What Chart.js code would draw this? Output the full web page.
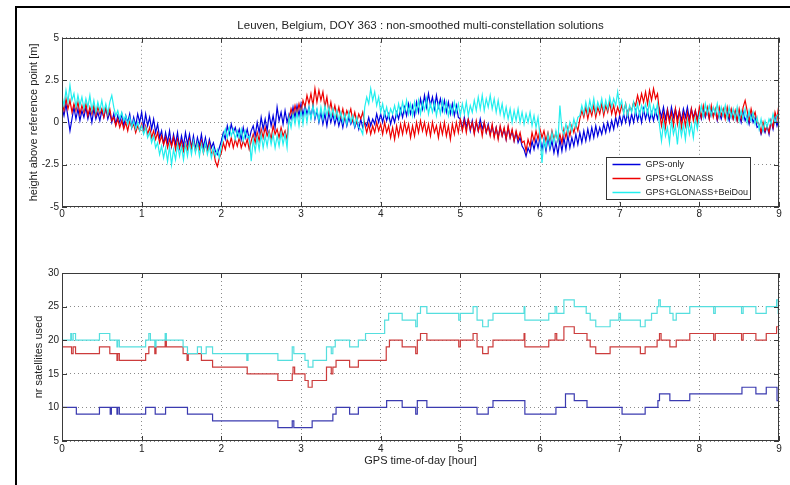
<!DOCTYPE html>
<html>
<head>
<meta charset="utf-8">
<title>Leuven, Belgium, DOY 363</title>
<script src="https://cdn.jsdelivr.net/npm/chart.js@4/dist/chart.umd.min.js"></script>
<style>
  html, body { margin: 0; padding: 0; background: #fff; }
  #fig { position: relative; width: 790px; height: 485px; overflow: hidden; background: #fff; }
  #frame { position: absolute; left: 15px; top: 6px; width: 800px; height: 500px; border: 2px solid #000; }
  #topCanvas { position: absolute; left: 0; top: 0; }
  #botCanvas { position: absolute; left: 0; top: 240px; }
</style>
</head>
<body>
<div id="fig">
  <div id="frame"></div>
  <canvas id="topCanvas" width="790" height="225"></canvas>
  <canvas id="botCanvas" width="790" height="245"></canvas>
</div>
<script>
// ── Data ─────────────────────────────────────────────────────────────────
// Height above reference point [m], every 0.025 h
// (two lines = one hour, last value is 9 h)
const heightStep = 0.025;

const gpsOnlyHeight = [
   0.9,  0.4,  1.1,  0.3, -0.5,  0.2,  0.9,  0.2,  0.8,  0.1,  0.7,  0.3,  0.9,  0.2,  0.7,  0.0,  0.8,  0.2,  0.6,  0.1,
   0.7,  0.3,  0.9,  0.2,  0.6,  0.0,  0.5, -0.1,  0.4,  0.0,  0.5, -0.2,  0.4,  0.0,  0.5, -0.3,  0.3, -0.2,  0.5,  0.0,
   0.6, -0.3,  0.5, -0.2,  0.3, -0.4,  0.2, -0.6, -0.1, -0.9, -0.5, -1.3, -0.6, -1.2, -0.5, -1.4, -0.7, -1.3, -0.6, -1.5,
  -0.8, -1.4, -0.6, -1.3, -0.7, -1.5, -0.8, -1.6, -0.9, -1.4, -0.7, -1.5, -0.9, -1.6, -1.0, -1.5, -1.2, -1.7, -1.9, -1.5,
  -1.1, -0.6, -1.0, -0.2, -0.7, -0.1, -0.6, -0.3, -0.8, -0.4, -1.0, -0.3, -0.9, -0.4, -1.0, -0.5, -0.2, -0.8,  0.0, -0.6,
   0.3, -0.4,  0.2, -0.5,  0.5, -0.2,  0.4, -0.3,  0.9,  0.1,  0.6, -0.1,  0.7,  0.0,  0.5,  0.2,  0.9,  0.3,  1.0,  0.4,
   1.1,  0.4,  1.0,  0.5,  0.9,  0.3,  1.0,  0.2,  0.7,  0.0,  0.6, -0.1,  0.5, -0.2,  0.6,  0.0,  0.5, -0.1,  0.4, -0.2,
   0.3, -0.3,  0.4, -0.2,  0.3, -0.1,  0.2, -0.3,  0.1, -0.4,  0.2, -0.3,  0.0, -0.2,  0.3, -0.2,  0.2, -0.1,  0.5,  0.0,
   0.5,  0.0,  0.6,  0.1,  0.5, -0.1,  0.4,  0.0,  0.6,  0.2,  0.8,  0.3,  0.9,  0.4,  1.1,  0.5,  1.0,  0.4,  1.2,  0.6,
   1.4,  0.8,  1.6,  0.9,  1.7,  1.0,  1.5,  0.8,  1.6,  0.9,  1.4,  0.7,  1.3,  0.6,  1.2,  0.5,  1.1,  0.4,  1.0,  0.3,
   0.2, -0.4,  0.3, -0.3,  0.2, -0.5,  0.1, -0.6,  0.0, -0.5,  0.2, -0.4,  0.0, -0.6, -0.1, -0.7, -0.2, -0.8, -0.3, -0.9,
  -0.3, -0.8, -0.4, -1.0, -0.3, -0.9, -0.5, -1.1, -0.6, -1.2, -0.9, -1.4, -1.6, -2.0, -1.5, -1.8, -1.1, -1.6, -1.0, -1.5,
  -0.9, -1.6, -1.0, -1.7, -0.9, -1.6, -1.1, -1.8, -1.2, -1.9, -1.0, -1.7, -0.9, -1.6, -0.8, -1.5, -0.9, -1.4, -0.7, -1.3,
  -0.6, -1.2, -0.5, -1.1, -0.4, -1.0, -0.3, -0.9, -0.2, -0.8, -0.3, -0.7, -0.1, -0.6,  0.0, -0.5,  0.1, -0.4,  0.3, -0.2,
   0.4, -0.1,  0.5,  0.0,  0.6, -0.1,  0.5,  0.0,  0.7,  0.1,  0.6,  0.0,  0.8,  0.2,  0.7,  0.1,  0.6,  0.1,  0.7,  0.2,
   0.8,  0.3,  0.9,  0.2,  0.8,  0.1,  0.9,  0.3,  0.8,  0.2,  0.7,  0.1,  0.8,  0.3,  0.9,  0.2,  0.8,  0.3,  0.7,  0.2,
   0.7,  0.2,  0.8,  0.3,  0.7,  0.2,  0.8,  0.4,  0.7,  0.1,  0.6,  0.2,  0.7,  0.3,  0.6,  0.1,  0.7,  0.2,  0.6,  0.1,
   0.5,  0.0,  0.6,  0.1,  0.4, -0.1,  0.5,  0.0,  0.3, -0.3, -0.2, -0.7, -0.3, -0.6, -0.2, -0.7,  0.1, -0.4,  0.3, -0.2,
   0.2
];

const gpsGlonassHeight = [
   1.2,  0.7,  1.4,  0.8,  1.3,  0.6,  1.1,  0.7,  1.2,  0.5,  1.0,  0.6,  1.1,  0.4,  0.9,  0.5,  1.0,  0.4,  0.9,  0.5,
   0.8,  0.3,  0.9,  0.4,  0.8,  0.1,  0.3, -0.2,  0.2, -0.3,  0.1, -0.4,  0.0, -0.5,  0.1, -0.3, -0.1, -0.6, -0.2, -0.5,
  -0.1, -0.6, -0.2, -0.7, -0.3, -0.9, -0.5, -1.0, -0.6, -1.2, -0.8, -1.3, -0.9, -1.5, -1.0, -1.4, -0.9, -1.6, -1.0, -1.5,
  -1.1, -1.7, -1.2, -1.6, -1.0, -1.5, -1.1, -1.7, -1.2, -1.6, -1.1, -1.8, -1.3, -1.7, -1.2, -1.9, -1.6, -2.3, -2.6, -2.1,
  -1.8, -1.2, -1.6, -1.0, -1.4, -0.9, -1.5, -1.0, -1.4, -0.9, -1.5, -1.1, -1.4, -1.0, -1.6, -1.1, -0.7, -1.2, -0.6, -1.1,
  -0.4, -0.9, -0.3, -0.8, -0.5, -1.0, -0.2, -0.7, -0.4, -0.9, -0.3, -0.8, -0.5, -1.0,  0.2,  0.8,  0.4,  1.0,  0.5,  1.1,
   0.6,  1.3,  0.9,  1.6,  1.1,  1.7,  1.0,  2.0,  1.2,  1.9,  1.3,  1.8,  0.9,  1.5,  0.6,  1.2,  0.5,  1.0,  0.4,  0.9,
   0.3,  0.8,  0.2,  0.7,  0.4,  0.8,  0.1,  0.6,  0.0,  0.5,  0.2,  0.6, -0.1, -0.6, -0.1, -0.7, -0.2, -0.6,  0.0, -0.5,
  -0.1, -0.7,  0.0, -0.6, -0.2, -0.9, -0.3, -1.0, -0.2, -0.8, -0.1, -0.7,  0.0, -0.6, -0.1, -0.9, -0.2, -0.8,  0.0, -0.6,
   0.1, -0.5,  0.0, -0.7, -0.1, -0.8,  0.0, -0.6, -0.2, -0.9, -0.1, -0.7,  0.0, -0.8, -0.2, -1.0, -0.1, -0.7,  0.0, -0.6,
   0.2, -0.5,  0.1, -0.6,  0.2, -0.4,  0.0, -0.7,  0.1, -0.5, -0.1, -0.8,  0.0, -0.6, -0.2, -0.8, -0.1, -0.9, -0.3, -1.0,
  -0.2, -0.8, -0.3, -1.0, -0.2, -0.9, -0.4, -1.1, -0.5, -1.0, -0.6, -1.2, -1.1, -1.7, -1.0, -1.4, -0.6, -1.1, -0.5, -1.0,
  -0.4, -0.9, -0.5, -1.1, -0.6, -1.2, -0.5, -1.0, -0.6, -1.1, -0.7, -1.2, -0.4, -0.9, -0.3, -0.8, -0.2, -0.6, -0.1, -0.5,
   0.2,  0.7,  0.3,  0.9,  0.2,  0.8,  0.4,  1.0,  0.3,  0.9,  0.5,  1.1,  0.4,  1.0,  0.6,  1.2,  0.5,  1.0,  0.4,  0.9,
   0.5,  1.0,  0.6,  1.1,  0.4,  0.9,  0.7,  1.2,  1.0,  1.6,  1.1,  1.7,  1.2,  1.8,  1.1,  1.9,  1.3,  2.0,  1.4,  1.7,
   0.6, -0.2,  0.5, -0.3,  0.7,  0.0,  0.6, -0.2,  0.8, -0.1,  0.7, -0.3,  0.5, -0.2,  0.6, -0.1,  0.8,  0.1,  0.7,  0.0,
   0.9,  0.3,  1.0,  0.4,  0.9,  0.2,  1.0,  0.3,  0.8,  0.2,  0.9,  0.4,  0.8,  0.2,  0.9,  0.3,  0.8,  0.2,  0.7,  0.1,
   0.8,  0.2,  0.9,  1.3,  0.7,  0.1,  0.8,  0.3,  0.6,  0.0, -0.1, -0.6,  0.0, -0.5, -0.2, -0.6,  0.1, -0.3,  0.6,  0.2,
   1.1
];

const gpsGlonassBeidouHeight = [
   1.6,  1.0,  1.9,  1.2,  2.2,  1.3,  1.7,  0.9,  1.6,  1.0,  1.5,  0.8,  1.4,  0.9,  1.6,  0.7,  1.3,  0.6,  1.2,  0.7,
   1.3,  0.6,  1.1,  0.5,  1.2,  1.6,  0.9,  0.4,  0.7,  0.2,  0.6,  0.1,  0.4, -0.1,  0.3, -0.3,  0.1, -0.4,  0.0, -0.5,
  -0.2, -0.7, -0.3, -0.9, -0.6, -1.2, -0.8, -1.5, -1.2, -1.9, -1.4, -2.1, -1.5, -2.3, -1.4, -2.5, -1.6, -2.2, -1.3, -2.0,
  -1.4, -2.2, -1.3, -2.0, -1.2, -1.9, -1.1, -1.8, -1.2, -2.0, -1.3, -1.8, -1.2, -1.9, -1.4, -2.1, -1.5, -2.0, -1.6, -2.1,
  -1.4, -0.8, -0.4, -0.9, -0.3, -0.8, -0.4, -1.0, -0.5, -0.9, -0.4, -1.1, -0.5, -0.9, -0.8, -2.3, -1.0, -1.7, -0.9, -1.6,
  -0.7, -1.5, -0.8, -1.4, -0.6, -1.3, -0.7, -1.5, -0.8, -1.4, -0.6, -1.3, -0.7, -1.5,  0.3, -0.3,  0.5, -0.1,  0.6, -0.2,
   0.7, -0.1,  0.8,  0.0,  0.9,  0.2,  1.0,  0.3,  0.8,  0.1,  0.9,  0.2,  1.0,  0.4,  0.9,  0.3,  0.8,  0.2,  0.7,  0.1,
   0.6,  0.0,  0.5, -0.1,  0.6,  0.0,  0.4, -0.2,  0.3, -0.3, -0.4, -0.7,  0.9,  1.5,  1.1,  2.0,  1.3,  1.8,  1.0,  1.5,
   0.6,  1.1,  0.4,  0.9,  0.3,  0.8,  0.5,  1.0,  0.4,  1.1,  0.5,  1.2,  0.6,  1.3,  0.5,  1.1,  0.4,  1.2,  0.6,  1.3,
   0.5,  1.2,  0.7,  1.4,  0.5,  1.1,  0.6,  1.2,  0.4,  1.1,  0.5,  1.3,  0.6,  1.2,  0.4,  1.0,  0.5,  1.2,  0.6,  1.1,
   0.4,  1.1,  0.5,  1.2,  0.4,  1.0,  0.6,  1.3,  0.7,  1.5,  0.8,  1.6,  0.7,  1.4,  0.9,  1.6,  0.8,  1.4,  0.6,  1.3,
   0.5,  1.1,  0.3,  0.9,  0.2,  0.8,  0.0,  0.7,  0.1,  0.8,  0.0,  0.6, -0.1,  0.5,  0.0,  0.6, -0.2,  0.4, -0.3,  0.3,
  -0.8, -2.4, -1.0, -1.5, -0.7, -1.4, -0.6, -1.2, -0.5, -1.1,  1.0, -0.4, -0.7, -0.1, -0.6,  0.0, -0.5,  0.2, -0.3,  0.3,
   0.4,  1.0,  0.5,  1.2,  0.6,  1.3,  0.7,  1.4,  0.6,  1.2,  0.8,  1.4,  0.7,  1.3,  0.8,  1.5,  0.9,  1.4,  1.0,  1.8,
   0.9,  1.3,  0.5,  1.1,  0.4,  1.0,  0.6,  1.2,  0.5,  1.1,  0.4,  1.0,  0.6,  1.1,  0.5,  1.2,  0.4,  1.0,  0.5,  1.1,
  -0.2, -1.1,  0.0, -0.8, -0.3, -1.2,  0.1, -0.7, -0.2, -1.3,  0.0, -0.8, -0.1, -1.0,  0.1, -0.7, -0.1, -0.9,  0.2, -0.4,
   0.4,  1.0,  0.3,  1.1,  0.5,  1.0,  0.4,  0.9,  0.5,  1.1,  0.3,  0.9,  0.4,  1.0,  0.2,  0.9,  0.3,  0.8,  0.2,  0.9,
   0.1,  0.7,  0.2,  0.8,  0.0,  0.7,  0.1,  0.6, -0.1,  0.3, -0.4,  0.2, -0.5,  0.1, -0.3,  0.2, -0.1,  0.5,  0.0,  0.4,
   0.5
];

// Number of satellites used: hour at which the count changes, and the new count
const gpsOnlySatTimes = [0, 0.18, 0.47, 0.605, 0.62, 0.69, 0.70, 0.72,
  1.05, 1.17, 1.30, 1.575, 1.89, 2.71, 2.89, 2.91, 3.14, 3.40, 3.44, 3.61, 3.72,
  4.075, 4.27, 4.44, 4.46, 4.58, 5.21, 5.35, 5.41, 5.81, 6.20, 6.32, 6.43, 6.59,
  7.03, 7.32, 7.48, 7.50, 7.63, 7.88, 8.535, 8.71, 8.84, 8.975, 9];
const gpsOnlySatCount = [10, 9, 10, 9, 10, 9, 10, 9,
  10, 9, 10, 9, 8, 7, 8, 7, 8, 9, 10, 9, 10,
  11, 10, 9, 11, 10, 9, 10, 11, 9, 10, 12, 11, 10,
  9, 10, 11, 12, 11, 12, 13, 12, 13, 11, 11];

const gpsGlonassSatTimes = [0, 0.12, 0.14, 0.17, 0.47, 0.60, 0.69, 0.70, 0.72,
  1.05, 1.09, 1.165, 1.18, 1.295, 1.31, 1.52, 1.57, 1.585, 1.75, 1.89,
  2.325, 2.71, 2.89, 2.90, 2.92,
  3.05, 3.09, 3.14, 3.32, 3.38, 3.40, 3.44, 3.61, 3.72,
  4.07, 4.11, 4.27, 4.44, 4.46, 4.50, 4.58, 4.98,
  5.00, 5.16, 5.21, 5.28, 5.35, 5.41, 5.80, 5.81,
  6.11, 6.19, 6.21, 6.30, 6.43, 6.59, 6.63, 6.70, 6.88,
  7.26, 7.32, 7.47, 7.50, 7.52, 7.63, 7.71, 7.88,
  8.18, 8.20, 8.53, 8.55, 8.71, 8.84, 8.97, 9];
const gpsGlonassSatCount = [19, 18, 19, 18, 19, 18, 17, 18, 17,
  18, 19, 18, 19, 20, 19, 18, 17, 18, 17, 16,
  15, 14, 15, 16, 15,
  14, 13, 14, 16, 15, 16, 17, 16, 17,
  19, 20, 19, 18, 20, 21, 20, 19,
  20, 21, 19, 18, 19, 20, 21, 19,
  20, 21, 20, 22, 21, 20, 19, 18, 19,
  18, 19, 20, 21, 20, 19, 20, 21,
  20, 21, 20, 21, 20, 21, 22, 22];

const gpsGlonassBeidouSatTimes = [0, 0.11, 0.12, 0.14, 0.17, 0.47, 0.60, 0.69, 0.70, 0.72,
  1.05, 1.09, 1.11, 1.165, 1.18, 1.295, 1.31, 1.52, 1.575, 1.70, 1.75, 1.81, 1.89,
  2.32, 2.335, 2.71, 2.89, 2.91,
  3.05, 3.09, 3.15, 3.32, 3.38, 3.40, 3.43, 3.61, 3.72, 3.81,
  4.05, 4.10, 4.27, 4.44, 4.46, 4.50, 4.58, 4.98,
  5.00, 5.16, 5.21, 5.28, 5.35, 5.41, 5.80, 5.81,
  6.11, 6.19, 6.21, 6.30, 6.43, 6.58, 6.63, 6.70, 6.88, 6.99,
  7.01, 7.26, 7.32, 7.40, 7.47, 7.49, 7.51, 7.63, 7.67, 7.71, 7.88,
  8.18, 8.20, 8.53, 8.55, 8.71, 8.84, 8.97, 8.99, 9];
const gpsGlonassBeidouSatCount = [20, 21, 20, 21, 20, 21, 20, 19, 20, 19,
  20, 21, 20, 19, 20, 21, 20, 19, 18, 19, 18, 19, 18,
  17, 18, 17, 19, 18,
  17, 16, 17, 19, 18, 19, 20, 19, 20, 21,
  23, 24, 23, 22, 24, 25, 24, 23,
  24, 25, 23, 22, 23, 24, 25, 23,
  24, 25, 24, 26, 25, 24, 23, 22, 23, 24,
  23, 22, 23, 24, 25, 26, 25, 24, 23, 24, 25,
  24, 25, 24, 25, 24, 25, 26, 24, 24];

const seriesNames = ['GPS-only', 'GPS+GLONASS', 'GPS+GLONASS+BeiDou'];
const hourTicks = [0, 1, 2, 3, 4, 5, 6, 7, 8, 9];

// ── Helpers ──────────────────────────────────────────────────────────────
const FONT = '"Liberation Sans", Arial, Helvetica, sans-serif';
Chart.defaults.font.family = FONT;
Chart.defaults.color = '#222';

const heightPoints = vals => vals.map((v, i) => ({ x: +(i * heightStep).toFixed(3), y: v }));
const stepPoints = (times, counts) => times.map((t, i) => ({ x: t, y: counts[i] }));

// MATLAB-like axes box with inward tick marks
const axesBox = {
  id: 'axesBox',
  afterDatasetsDraw(chart) {
    const { ctx, chartArea: a, scales: { x, y } } = chart;
    ctx.save();
    ctx.strokeStyle = '#3a3a3a';
    ctx.lineWidth = 1;
    ctx.strokeRect(Math.round(a.left) + 0.5, Math.round(a.top) + 0.5,
                   Math.round(a.width) - 1, Math.round(a.height) - 1);
    ctx.beginPath();
    x.ticks.forEach(t => {
      const px = Math.round(x.getPixelForValue(t.value)) + 0.5;
      ctx.moveTo(px, a.bottom); ctx.lineTo(px, a.bottom - 5);
      ctx.moveTo(px, a.top);    ctx.lineTo(px, a.top + 5);
    });
    y.ticks.forEach(t => {
      const py = Math.round(y.getPixelForValue(t.value)) + 0.5;
      ctx.moveTo(a.left, py);  ctx.lineTo(a.left + 5, py);
      ctx.moveTo(a.right, py); ctx.lineTo(a.right - 5, py);
    });
    ctx.stroke();
    ctx.restore();
  }
};

// Boxed legend inside the lower right of the top axes
const legendBox = {
  id: 'legendBox',
  afterDraw(chart) {
    const { ctx, chartArea: a } = chart;
    const w = 144, h = 42;
    const left = Math.round(a.right - 29 - w) + 0.5;
    const top = Math.round(a.bottom - 8 - h) + 0.5;
    ctx.save();
    ctx.fillStyle = '#fff';
    ctx.fillRect(left, top, w, h);
    ctx.strokeStyle = '#333';
    ctx.lineWidth = 1;
    ctx.strokeRect(left, top, w, h);
    ctx.font = '9px ' + FONT;
    ctx.textBaseline = 'middle';
    chart.data.datasets.forEach((ds, i) => {
      const cy = top + 7 + i * 14;
      ctx.strokeStyle = ds.borderColor;
      ctx.lineWidth = 1.5;
      ctx.beginPath();
      ctx.moveTo(left + 6, cy); ctx.lineTo(left + 34, cy);
      ctx.stroke();
      ctx.fillStyle = '#222';
      ctx.fillText(ds.label, left + 39, cy);
    });
    ctx.restore();
  }
};

function xScale(tickPad, height, title) {
  return {
    type: 'linear', min: 0, max: 9,
    afterBuildTicks: s => { s.ticks = hourTicks.map(v => ({ value: v })); },
    afterFit: s => { s.height = height; },
    ticks: { padding: tickPad, font: { size: 10 }, color: '#222' },
    grid: { color: '#8a8a8a', drawTicks: false },
    border: { display: false, dash: [1, 3] },
    title: title
  };
}

function yScale(min, max, step, titleText, titlePad) {
  return {
    min: min, max: max,
    afterFit: s => { s.width = 62; },
    ticks: { stepSize: step, padding: 3, font: { size: 10 }, color: '#222' },
    grid: { color: '#8a8a8a', drawTicks: false },
    border: { display: false, dash: [1, 3] },
    title: { display: true, text: titleText, font: { size: 11 }, color: '#222',
             padding: { top: titlePad, bottom: 0 } }
  };
}

const lineStyle = (label, color, width, order, data, stepped) => ({
  label: label, data: data, borderColor: color, backgroundColor: color,
  borderWidth: width, pointRadius: 0, tension: 0, order: order, stepped: stepped
});

// ── Top: height solutions ────────────────────────────────────────────────
new Chart(document.getElementById('topCanvas'), {
  type: 'line',
  data: {
    datasets: [
      lineStyle(seriesNames[0], '#0000dd', 1.2, 3, heightPoints(gpsOnlyHeight), false),
      lineStyle(seriesNames[1], '#ee0000', 1.2, 2, heightPoints(gpsGlonassHeight), false),
      lineStyle(seriesNames[2], '#22eeee', 1.2, 1, heightPoints(gpsGlonassBeidouHeight), false)
    ]
  },
  options: {
    responsive: false, animation: false, events: [],
    layout: { padding: { left: 0, right: 11, top: 0, bottom: 0 } },
    plugins: {
      legend: { display: false }, tooltip: { enabled: false },
      title: {
        display: true, fullSize: false, color: '#222',
        text: 'Leuven, Belgium, DOY 363 : non-smoothed multi-constellation solutions',
        font: { size: 11.5, weight: 'normal' },
        padding: { top: 19, bottom: 5 }
      }
    },
    scales: {
      x: xScale(1, 18, { display: false }),
      y: yScale(-5, 5, 2.5, 'height above reference point [m]', 27)
    }
  },
  plugins: [axesBox, legendBox]
});

// ── Bottom: number of satellites ─────────────────────────────────────────
new Chart(document.getElementById('botCanvas'), {
  type: 'line',
  data: {
    datasets: [
      lineStyle(seriesNames[0], '#3b3bb0', 1.2, 3, stepPoints(gpsOnlySatTimes, gpsOnlySatCount), 'before'),
      lineStyle(seriesNames[1], '#cc3c3c', 1.2, 2, stepPoints(gpsGlonassSatTimes, gpsGlonassSatCount), 'before'),
      lineStyle(seriesNames[2], '#55dede', 1.2, 1, stepPoints(gpsGlonassBeidouSatTimes, gpsGlonassBeidouSatCount), 'before')
    ]
  },
  options: {
    responsive: false, animation: false, events: [],
    layout: { padding: { left: 0, right: 11, top: 33, bottom: 0 } },
    plugins: { legend: { display: false }, tooltip: { enabled: false } },
    scales: {
      x: xScale(2, 44, { display: true, text: 'GPS time-of-day [hour]', font: { size: 11 },
                         color: '#222', padding: { top: 0, bottom: 17 } }),
      y: yScale(5, 30, 5, 'nr satellites used', 32)
    }
  },
  plugins: [axesBox]
});
</script>
</body>
</html>
